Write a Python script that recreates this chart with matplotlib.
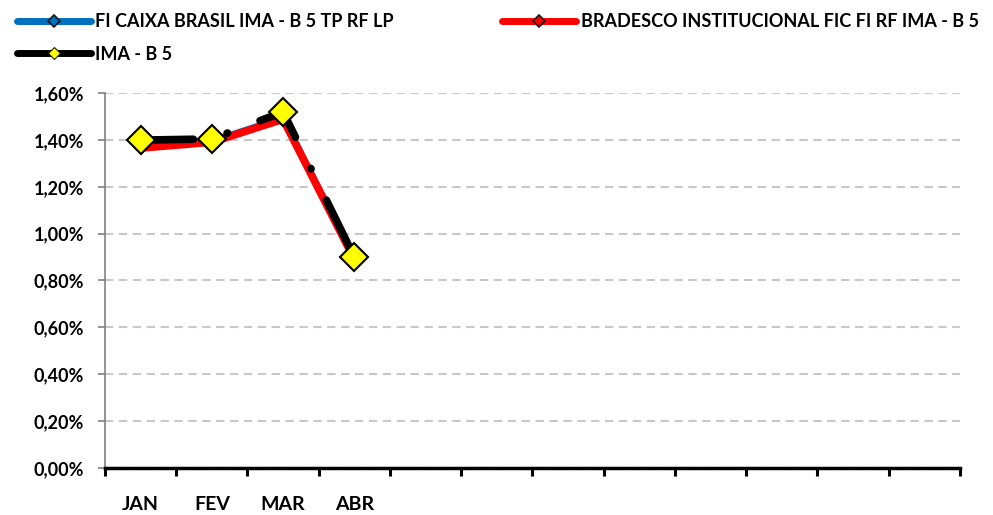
import numpy as np
import matplotlib.pyplot as plt
from matplotlib.ticker import FixedLocator, FuncFormatter

plt.rcParams['font.family'] = ['Lato', 'DejaVu Sans']
plt.rcParams['font.weight'] = 'bold'
plt.rcParams['lines.scale_dashes'] = False

# data (monthly returns, %)
months = ['JAN', 'FEV', 'MAR', 'ABR']
n_slots = 12
caixa = [1.37, 1.395, 1.495, 0.895]
bradesco = [1.365, 1.39, 1.488, 0.89]
ima_b5 = [1.399, 1.404, 1.519, 0.90]
yticks = [0.0, 0.2, 0.4, 0.6, 0.8, 1.0, 1.2, 1.4, 1.6]

fig = plt.figure(figsize=(9.93, 5.15), dpi=100)
ax = fig.add_axes([0.1057, 0.0913, 0.861, 0.7281])

x = np.arange(len(months))
l1, = ax.plot(x, caixa, color='#0070C0', lw=4.5, solid_capstyle='round',
              solid_joinstyle='round', marker='D', ms=6, mfc='#0070C0', mec='#1a1a1a', mew=1.2,
              label='FI CAIXA BRASIL IMA - B 5 TP RF LP', zorder=3)
l2, = ax.plot(x, bradesco, color='#FF0000', lw=5.5, solid_capstyle='round',
              solid_joinstyle='round', marker='D', ms=6, mfc='#FF0000', mec='#1a1a1a', mew=1.2,
              label='BRADESCO INSTITUCIONAL FIC FI RF IMA - B 5', zorder=4)
l3, = ax.plot(x, ima_b5, color='black', lw=5.5, dash_capstyle='round',
              linestyle=(0, (38, 25, 0.4, 25)), zorder=5,
              label='IMA - B 5')
ax.plot(x, ima_b5, linestyle='none', marker='D', ms=14, mfc='#FFFF00',
        mec='black', mew=1.5, zorder=6)

ax.set_xlim(-0.5, n_slots - 0.5)
ax.set_ylim(0, 1.6)

# y axis
ax.yaxis.set_major_locator(FixedLocator(yticks))
ax.yaxis.set_major_formatter(FuncFormatter(lambda v, p: f'{v:.2f}%'.replace('.', ',')))
ax.grid(axis='y', color='#C8C8C8', lw=1.5, linestyle=(0, (6, 4)))
ax.set_axisbelow(True)
ax.tick_params(axis='y', colors='#808080', length=5, width=1.2, labelsize=13,
               labelcolor='black', pad=10)

# x axis: ticks at category boundaries, labels at centers
ax.xaxis.set_major_locator(FixedLocator(np.arange(n_slots + 1) - 0.5))
ax.xaxis.set_major_formatter(FuncFormatter(lambda v, p: ''))
ax.xaxis.set_minor_locator(FixedLocator(x))
ax.set_xticklabels(months, minor=True)
ax.tick_params(axis='x', which='major', length=6, width=2.2, color='black')
ax.tick_params(axis='x', which='minor', length=0, labelsize=14, pad=20)

for s in ['top', 'right']:
    ax.spines[s].set_visible(False)
ax.spines['left'].set_color('#808080')
ax.spines['left'].set_linewidth(1.2)
ax.spines['bottom'].set_color('black')
ax.spines['bottom'].set_linewidth(2.5)

# legend
h1, = ax.plot([], [], color='#0070C0', lw=5, solid_capstyle='round', marker='D',
              ms=6, mfc='#0070C0', mec='#1a1a1a', mew=1.2)
h2, = ax.plot([], [], color='#FF0000', lw=5, solid_capstyle='round', marker='D',
              ms=6, mfc='#FF0000', mec='#1a1a1a', mew=1.2)
h3, = ax.plot([], [], color='black', lw=5, solid_capstyle='round', marker='D',
              ms=6, mfc='#FFFF00', mec='#1a1a1a', mew=0.8)
fig.legend([h1, h3, h2],
           ['FI CAIXA BRASIL IMA - B 5 TP RF LP', 'IMA - B 5',
            'BRADESCO INSTITUCIONAL FIC FI RF IMA - B 5'],
           loc='upper left', bbox_to_anchor=(0.006, 0.995), ncol=2, frameon=False,
           fontsize=13, handlelength=4.1, handletextpad=0.25, columnspacing=6.0,
           labelspacing=0.85, borderaxespad=0.2)

fig.savefig('out.png', dpi=100)
